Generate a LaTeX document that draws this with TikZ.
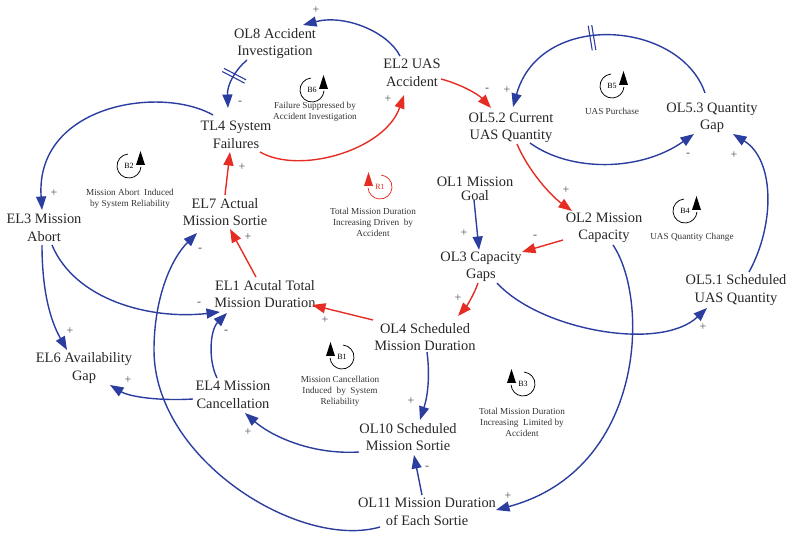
\documentclass[tikz,border=0pt]{standalone}
\usepackage{fontspec}
\setmainfont{Liberation Serif}
\usetikzlibrary{arrows.meta,calc,decorations.markings}
\definecolor{cblue}{RGB}{43,62,160}
\definecolor{cred}{RGB}{230,45,35}
\definecolor{csign}{RGB}{80,80,80}

\begin{document}
\begin{tikzpicture}[x=1pt,y=-1pt,
  var/.style={font=\fontsize{14.4}{17.5}\selectfont, align=center, inner sep=0pt, text=black!85},
  note/.style={font=\fontsize{9.2}{11}\selectfont, align=center, inner sep=0pt, text=black!80},
  sgn/.style={font=\fontsize{12}{12}\selectfont, text=csign, inner sep=0pt},
  link/.style={line width=1.4pt, -{Triangle[length=13.5pt,width=10pt]}},
  bluelink/.style={link, draw=cblue},
  redlink/.style={link, draw=cred},
  delaymark/.style={postaction={decorate, decoration={markings,
      mark=at position #1 with {\draw[cblue, line width=1.1pt, arrows=-]
        (-1.8pt,-12.5pt) -- (-1.8pt,12.5pt) (1.8pt,-12.5pt) -- (1.8pt,12.5pt);}}}},
  loopmark/.pic={
    \draw[line width=0.75pt] (95:12pt) arc[start angle=95, end angle=356, radius=12pt];
    \fill (7pt,1pt) -- (16pt,1pt) -- (11.5pt,15pt) -- cycle;
    \node[font=\fontsize{8}{8}\selectfont, inner sep=0pt] at (0,0) {#1};
  }
]
\useasboundingbox (0,0) rectangle (787,534);

% variables
\node[var] (ol8)  at (275,43.5) {OL8 Accident\\Investigation};
\node[var] (el2)  at (412,73)   {EL2 UAS\\Accident};
\node[var] (tl4)  at (236,135)  {TL4 System\\Failures};
\node[var] (ol52) at (511,128)  {OL5.2 Current\\UAS Quantity};
\node[var] (ol53) at (712,118)  {OL5.3 Quantity\\Gap};
\node[var] (el3)  at (44,228)   {EL3 Mission\\Abort};
\node[var] (el7)  at (225,212)  {EL7 Actual\\Mission Sortie};
\node[var, font=\fontsize{14.4}{14}\selectfont] (ol1) at (475,189) {OL1 Mission\\Goal};
\node[var] (ol2)  at (604,228)  {OL2 Mission\\Capacity};
\node[var] (ol3)  at (481,267)  {OL3 Capacity\\Gaps};
\node[var] (ol51) at (736,290)  {OL5.1 Scheduled\\UAS Quantity};
\node[var] (el1)  at (265,294)  {EL1 Acutal Total\\Mission Duration};
\node[var] (ol4)  at (425,337)  {OL4 Scheduled\\Mission Duration};
\node[var] (el6)  at (84,368)   {EL6 Availability\\Gap};
\node[var] (el4)  at (233,395)  {EL4 Mission\\Cancellation};
\node[var] (ol10) at (408,437)  {OL10 Scheduled\\Mission Sortie};
\node[var] (ol11) at (427,512)  {OL11 Mission Duration\\of Each Sortie};

% loop markers
\pic at (312,90) {loopmark=B6};
\node[note] (nb6) at (315,112) {Failure Suppressed by\\Accident Investigation};
\pic at (612,86) {loopmark=B5};
\node[note] (nb5) at (612,111) {UAS Purchase};
\pic at (129,166) {loopmark=B2};
\node[note] (nb2) at (130,199) {Mission Abort\ \ Induced\\by System Reliability};
\pic[cred, xscale=-1] at (380,187) {loopmark=R1};
\node[note] (nr1) at (373,222) {Total Mission Duration\\Increasing Driven\ \ by\\Accident};
\pic at (685,211) {loopmark=B4};
\node[note] (nb4) at (692,237) {UAS Quantity Change};
\pic[xscale=-1] at (342,357) {loopmark=B1};
\node[note] (nb1) at (340,391) {Mission Cancellation\\Induced\ \ by\ \ System\\Reliability};
\pic[xscale=-1] at (523,384) {loopmark=B3};
\node[note] (nb3) at (522,422) {Total Mission Duration\\Increasing\ \ Limited by\\Accident};

% causal links
\draw[bluelink] ($(el2)+(-12,-17)$) .. controls (388,32) and (345,14) .. ($(ol8)+(28,-18.5)$);
\draw[bluelink, delaymark=0.38] ($(ol8)+(-28,16.5)$) .. controls (235,70) and (227,85) .. ($(tl4)+(-8,-27)$);
\draw[redlink] ($(tl4)+(24,17)$) .. controls (300,175) and (385,150) .. ($(el2)+(-8,22)$);
\draw[redlink] ($(el2)+(29,6)$) .. controls (460,84) and (478,94) .. ($(ol52)+(-20,-20)$);
\draw[bluelink, delaymark=0.55] ($(ol53)+(-7,-25)$) .. controls (680,20) and (540,10) .. ($(ol52)+(2,-21)$);
\draw[bluelink] ($(ol52)+(19,15)$) .. controls (570,172) and (640,172) .. ($(ol53)+(-18,16)$);
\draw[redlink] ($(ol52)+(6,16)$) .. controls (528,170) and (550,195) .. ($(ol2)+(-32,-17)$);
\draw[bluelink] ($(ol1)+(-1,11)$) -- ($(ol3)+(-2,-17)$);
\draw[redlink] ($(ol2)+(-41,12)$) -- ($(ol3)+(41,-15)$);
\draw[redlink] ($(ol3)+(-3,16)$) .. controls (474,295) and (466,307) .. ($(ol4)+(33,-21)$);
\draw[bluelink] ($(ol3)+(16,16)$) .. controls (540,330) and (660,352) .. ($(ol51)+(-29,18)$);
\draw[bluelink] ($(ol51)+(13,-18)$) .. controls (775,225) and (775,160) .. ($(ol53)+(21,16)$);
\draw[bluelink] ($(ol2)+(9,17)$) .. controls (650,300) and (645,470) .. ($(ol11)+(69,-2)$);
\draw[redlink] ($(ol4)+(-52,-17)$) -- ($(el1)+(47,11)$);
\draw[redlink] ($(el1)+(-9,-17)$) -- ($(el7)+(5,17)$);
\draw[redlink] ($(el7)+(0,-17)$) -- ($(tl4)+(-6,17)$);
\draw[bluelink] ($(tl4)+(-23,-20)$) .. controls (160,85) and (35,105) .. ($(el3)+(-2,-18)$);
\draw[bluelink] ($(el3)+(8,17)$) .. controls (75,300) and (150,320) .. ($(el1)+(-45,18)$);
\draw[bluelink] ($(el3)+(-2,17)$) .. controls (42,290) and (50,320) .. ($(el6)+(-17,-18)$);
\draw[bluelink] ($(el4)+(-16,-17)$) .. controls (208,360) and (210,330) .. ($(el1)+(-38,19)$);
\draw[bluelink] ($(el4)+(-40,4)$) .. controls (160,401) and (130,397) .. ($(el6)+(26,17)$);
\draw[bluelink] ($(ol10)+(-49,15)$) .. controls (310,455) and (270,435) .. ($(el4)+(12,18)$);
\draw[bluelink] ($(ol4)+(2,15)$) .. controls (430,375) and (428,395) .. ($(ol10)+(12,-17)$);
\draw[bluelink] ($(ol11)+(-5,-17)$) -- ($(ol10)+(6,18)$);
\draw[bluelink] ($(ol11)+(-47,15)$) .. controls (300,550) and (154,460) .. (154,350)
  .. controls (154,300) and (170,260) .. ($(el7)+(-28,21)$);

% polarity signs
\node[sgn] (s1)  at (316,10)  {+};
\node[sgn] (s2)  at (240,103) {-};
\node[sgn] (s3)  at (388,99)  {+};
\node[sgn] (s4)  at (487,90)  {-};
\node[sgn] (s5)  at (507,90)  {+};
\node[sgn] (s6)  at (688,155) {-};
\node[sgn] (s7)  at (566,190) {+};
\node[sgn] (s8)  at (464,233) {+};
\node[sgn] (s9)  at (535,237) {-};
\node[sgn] (s10) at (458,298) {+};
\node[sgn] (s11) at (703,327) {+};
\node[sgn] (s12) at (734,155) {+};
\node[sgn] (s13) at (508,496) {+};
\node[sgn] (s14) at (325,320) {+};
\node[sgn] (s15) at (248,237) {+};
\node[sgn] (s16) at (242,167) {+};
\node[sgn] (s17) at (54,193)  {+};
\node[sgn] (s18) at (199,304) {-};
\node[sgn] (s19) at (70,331)  {+};
\node[sgn] (s20) at (226,332) {-};
\node[sgn] (s21) at (128,380) {+};
\node[sgn] (s22) at (248,432) {+};
\node[sgn] (s23) at (411,401) {+};
\node[sgn] (s24) at (427,468) {-};
\node[sgn] (s25) at (200,250) {-};
\end{tikzpicture}
\end{document}
